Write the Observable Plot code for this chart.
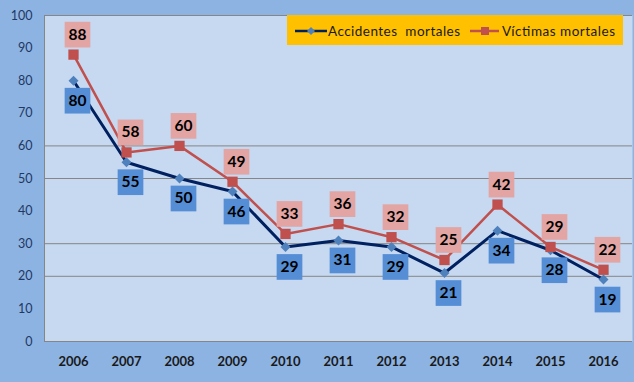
<!DOCTYPE html>
<html>
<head>
<meta charset="utf-8">
<script src="https://cdn.jsdelivr.net/npm/d3@7"></script>
<script src="https://cdn.jsdelivr.net/npm/@observablehq/plot@0.6"></script>
<style>
  html, body { margin: 0; padding: 0; background: #8DB3E2; }
  #wrap { position: relative; width: 634px; height: 382px; overflow: hidden; }
  #legend { position: absolute; left: 287px; top: 15px; width: 336px; height: 30px; background: #FFC000; }
</style>
</head>
<body>
<div id="wrap"></div>
<script>
const years = ["2006","2007","2008","2009","2010","2011","2012","2013","2014","2015","2016"];
const accidentes = [80,55,50,46,29,31,29,21,34,28,19];
const victimas = [88,58,60,49,33,36,32,25,42,29,22];
const yTicks = [0,10,20,30,40,50,60,70,80,90,100];
const gridLines = [20,30,50,60,100];
const seriesNames = ["Accidentes  mortales", "Víctimas mortales"];

const acc = years.map((year, i) => ({year, value: accidentes[i]}));
const vic = years.map((year, i) => ({year, value: victimas[i]}));

const font = "Lato, 'Open Sans', sans-serif";

const chart = Plot.plot({
  width: 634,
  height: 382,
  marginLeft: 44,
  marginRight: 2,
  marginTop: 15,
  marginBottom: 41,
  style: {background: "#8DB3E2", fontFamily: font},
  x: {type: "point", domain: years, padding: 0.5, label: null},
  y: {domain: [0, 100], label: null},
  marks: [
    Plot.frame({fill: "#C6D9F1", stroke: null}),
    Plot.ruleY(gridLines, {stroke: "#868686", strokeWidth: 1}),
    Plot.ruleY([0], {stroke: "#868686", strokeWidth: 1}),
    Plot.frame({anchor: "left", stroke: "#868686"}),
    Plot.axisY({ticks: yTicks, tickSize: 0, tickPadding: 12, fontSize: 12.5, fill: "#1F3864", label: null}),
    Plot.axisX({tickSize: 0, tickPadding: 15, fontSize: 13, fontWeight: "bold", fill: "#1a1a1a", label: null}),
    Plot.line(acc, {x: "year", y: "value", stroke: "#002060", strokeWidth: 3}),
    Plot.line(vic, {x: "year", y: "value", stroke: "#C0504D", strokeWidth: 2.5}),
    Plot.dot(acc, {x: "year", y: "value", symbol: "diamond2", r: 4.5, fill: "#4F81BD", stroke: null}),
    Plot.dot(vic, {x: "year", y: "value", symbol: "square", r: 5.8, fill: "#C0504D", stroke: null}),
    Plot.dot(acc, {x: "year", y: "value", symbol: "square", r: 14.5, fill: "#558ED5", stroke: null, dx: 4, dy: 20}),
    Plot.text(acc, {x: "year", y: "value", text: d => String(d.value), dx: 4, dy: 20, fontSize: 15.5, fontWeight: "bold", fill: "#000"}),
    Plot.dot(vic, {x: "year", y: "value", symbol: "square", r: 14.5, fill: "#E3A5A3", stroke: null, dx: 4, dy: -20}),
    Plot.text(vic, {x: "year", y: "value", text: d => String(d.value), dx: 4, dy: -20, fontSize: 15.5, fontWeight: "bold", fill: "#000"})
  ]
});

const wrap = document.getElementById("wrap");
wrap.appendChild(chart);

const legend = document.createElement("div");
legend.id = "legend";
legend.innerHTML = `
<svg width="336" height="30" style="font-family:${font};font-size:13.5px;">
  <line x1="8" x2="40" y1="16" y2="16" stroke="#002060" stroke-width="2.5"/>
  <path d="M24,12 L28,16 L24,20 L20,16 Z" fill="#4F81BD"/>
  <text x="41" y="20.5" fill="#1a1a1a" style="white-space:pre" textLength="132">${seriesNames[0]}</text>
  <line x1="183" x2="212" y1="16" y2="16" stroke="#C0504D" stroke-width="2.5"/>
  <rect x="194" y="12" width="8" height="8" fill="#C0504D"/>
  <text x="215" y="20.5" fill="#1a1a1a" textLength="113">${seriesNames[1]}</text>
</svg>`;
wrap.appendChild(legend);
</script>
</body>
</html>
